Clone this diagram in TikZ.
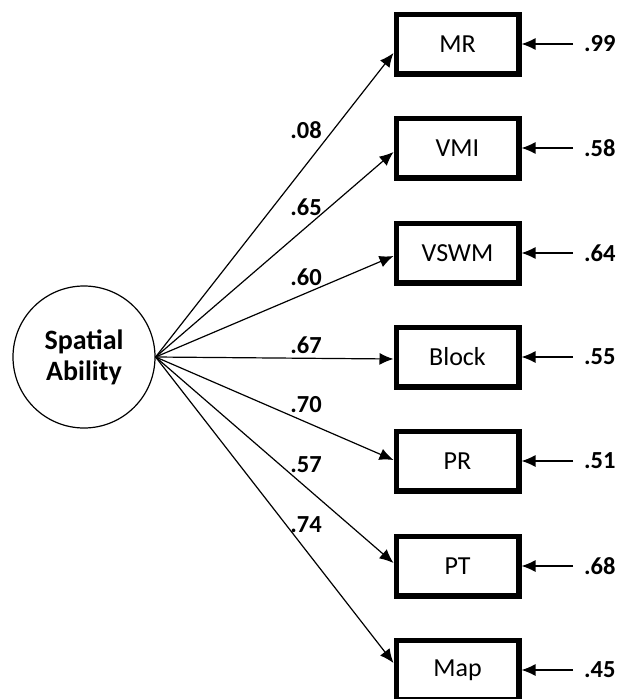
\documentclass[tikz,border=0pt]{standalone}
\usepackage{fontspec}
\setmainfont{Carlito}
\usetikzlibrary{arrows.meta}
\begin{document}
\begin{tikzpicture}[x=1pt,y=-1pt,
lat/.style={draw,circle,line width=1.2pt,minimum size=142pt,inner sep=0pt,align=center,font=\fontsize{28}{31}\selectfont\bfseries},
obs/.style={draw,line width=5.5pt,outer sep=2.75pt,minimum width=122.5pt,minimum height=59.5pt,font=\fontsize{26}{30}\selectfont},
val/.style={font=\fontsize{24.5}{28}\selectfont\bfseries},
arr/.style={line width=1.2pt,-{Latex[length=14pt,width=12pt]}}]
\useasboundingbox (0,0) rectangle (628,699);
\node[lat] (sa) at (84,357) {Spatial\\Ability};
% name/text/y/error/loading/label y/arrow offset
\foreach \nm/\txt/\yy/\err/\ld/\ly/\dy in {mr/MR/44/.99/.08/130/9, vmi/VMI/148/.58/.65/207/4,
    vswm/VSWM/253/.64/.60/277/3, block/Block/357/.55/.67/345/2, pr/PR/461/.51/.70/405/-1,
    pt/PT/566/.68/.57/465/-3, map/Map/670/.45/.74/525/-7} {
    \node[obs] (\nm) at (457.5,\yy) {\txt};
    \node[val,anchor=west,inner sep=0pt] (\nm-e) at (584,\yy) {\err};
    \node[val] (\nm-l) at (306,\ly) {\ld};
    \draw[arr] (sa.east) -- ([yshift=-\dy pt]\nm.west);
    \draw[arr,shorten <=11pt] (\nm-e.west) -- (\nm.east);
}
\end{tikzpicture}
\end{document}
